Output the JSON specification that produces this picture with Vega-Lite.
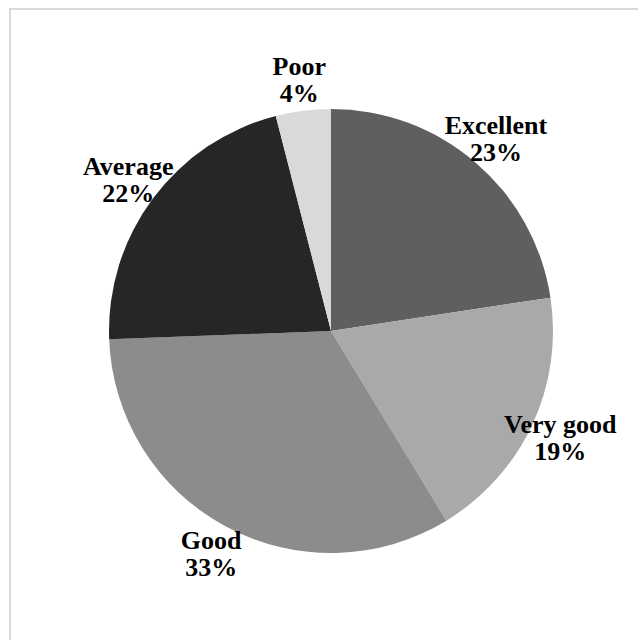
{
  "$schema": "https://vega.github.io/schema/vega-lite/v6.json",
  "width": 642,
  "height": 644,
  "autosize": "none",
  "padding": {"left": 10, "top": 9, "right": 0, "bottom": 0},
  "background": "white",
  "view": {"stroke": "#d9d9d9", "strokeWidth": 2},
  "config": {"view": {"stroke": "#d9d9d9", "strokeWidth": 2}},
  "data": {
    "values": [
      {"category": "Excellent", "value": 22.6, "idx": 1, "label": "Excellent\n23%"},
      {"category": "Very good", "value": 18.7, "idx": 2, "label": "Very good\n19%"},
      {"category": "Good", "value": 33.1, "idx": 3, "label": "Good\n33%"},
      {"category": "Average", "value": 21.6, "idx": 4, "label": "Average\n22%"},
      {"category": "Poor", "value": 4.0, "idx": 5, "label": "Poor\n4%"}
    ]
  },
  "encoding": {
    "theta": {"field": "value", "type": "quantitative", "stack": true},
    "order": {"field": "idx", "type": "quantitative"},
    "color": {
      "field": "category",
      "type": "nominal",
      "scale": {
        "domain": ["Excellent", "Very good", "Good", "Average", "Poor"],
        "range": ["#5f5f5f", "#a9a9a9", "#8c8c8c", "#262626", "#d9d9d9"]
      },
      "legend": null
    }
  },
  "layer": [
    {"mark": {"type": "arc", "outerRadius": 222}},
    {
      "mark": {
        "type": "text",
        "radius": 253,
        "dy": -13,
        "font": "Times New Roman, Liberation Serif, serif",
        "fontWeight": "bold",
        "fontSize": 26,
        "lineBreak": "\n",
        "lineHeight": 27,
        "align": "center",
        "baseline": "middle"
      },
      "encoding": {
        "text": {"field": "label"},
        "color": {"value": "black"}
      }
    }
  ]
}
